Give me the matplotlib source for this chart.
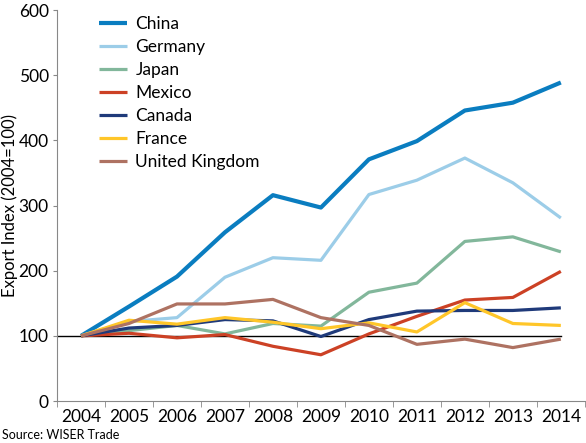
import matplotlib.pyplot as plt

plt.rcParams['font.family'] = ['Lato', 'DejaVu Sans']

years = ['2004', '2005', '2006', '2007', '2008', '2009', '2010', '2011', '2012', '2013', '2014']
china = [100, 145, 191, 259, 316, 297, 371, 399, 446, 458, 489]
germany = [100, 122, 128, 190, 220, 216, 317, 339, 373, 335, 281]
japan = [100, 108, 116, 103, 119, 115, 167, 181, 245, 252, 229]
mexico = [100, 104, 97, 102, 84, 71, 103, 130, 155, 159, 199]
canada = [100, 112, 116, 125, 123, 99, 125, 138, 139, 139, 143]
france = [100, 124, 118, 128, 121, 111, 120, 106, 151, 119, 116]
uk = [100, 119, 149, 149, 156, 128, 116, 87, 95, 82, 95]

series = [
    ('China', china, '#0a7dc0', 3.0),
    ('Germany', germany, '#9ccde8', 2.3),
    ('Japan', japan, '#82b79b', 2.3),
    ('Mexico', mexico, '#cc4125', 2.3),
    ('Canada', canada, '#1f3a7a', 2.3),
    ('France', france, '#ffc629', 2.3),
    ('United Kingdom', uk, '#ae7262', 2.3),
]

fig = plt.figure(figsize=(5.86, 4.43), dpi=100)
ax = fig.add_axes([0.0973, 0.0948, 0.9007, 0.8822])

x = list(range(len(years)))
ax.plot([-0.5, len(years) - 1], [100, 100], color='black', lw=1, zorder=1)
for name, vals, col, lw in series:
    ax.plot(x, vals, color=col, lw=lw, label=name, zorder=2, solid_capstyle='butt')

ax.set_xlim(-0.5, len(years) - 0.5)
ax.set_ylim(0, 600)
ax.set_yticks(range(0, 601, 100))
ax.set_xticks(x)
ax.set_xticklabels(years)
ax.set_xticks([i + 0.5 for i in range(-1, len(years))], minor=True)
ax.tick_params(axis='x', which='major', length=0, labelsize=12.5, pad=6)
ax.tick_params(axis='x', which='minor', length=4, color='#888888')
ax.tick_params(axis='y', length=3, color='#888888', labelsize=12.5, pad=3)
for s in ['top', 'right']:
    ax.spines[s].set_visible(False)
ax.spines['left'].set_color('#888888')
ax.spines['bottom'].set_color('#888888')
ax.set_ylabel('Export Index (2004=100)', fontsize=12)
ax.yaxis.set_label_coords(-0.073, 0.5)

ax.legend(loc='upper left', bbox_to_anchor=(0.05, 1.025), frameon=False, fontsize=12.5,
          handlelength=1.6, handletextpad=0.5, labelspacing=0.4)

fig.text(0.003, 0.008, 'Source: WISER Trade', fontsize=9)

plt.savefig('out.png', dpi=100)
